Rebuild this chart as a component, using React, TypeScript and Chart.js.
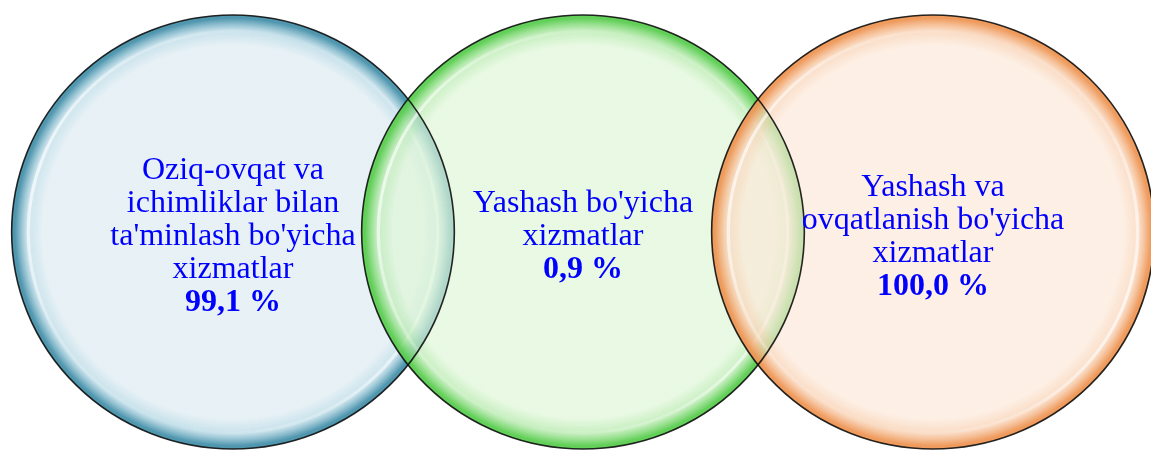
import React, { useEffect, useRef } from "react";
import { Chart, registerables } from "chart.js";

Chart.register(...registerables);

const categories: string[][] = [
  ["Oziq-ovqat va", "ichimliklar bilan", "ta'minlash bo'yicha", "xizmatlar"],
  ["Yashash bo'yicha", "xizmatlar"],
  ["Yashash va", "ovqatlanish bo'yicha", "xizmatlar"],
];
const shareLabels: string[] = ["99,1 %", "0,9 %", "100,0 %"];
const shares: number[] = [99.1, 0.9, 100.0];
const positionsX: number[] = [1, 2, 3];
const positionsY: number[] = [0, 0, 0];
const bubbleRadius: number[] = [217, 217, 217];

const palettes = [
  { inner: "rgba(222,236,242,0.72)", mid: "rgba(180,215,228,0.78)", rim: "rgba(70,145,170,0.95)" },
  { inner: "rgba(222,246,214,0.68)", mid: "rgba(175,232,165,0.75)", rim: "rgba(90,205,80,0.95)" },
  { inner: "rgba(252,232,216,0.68)", mid: "rgba(248,205,172,0.75)", rim: "rgba(238,150,85,0.95)" },
];

const STRETCH_X = 1.02;

function ellipsePath(ctx: CanvasRenderingContext2D, cx: number, cy: number, r: number) {
  ctx.beginPath();
  ctx.ellipse(cx, cy, r * STRETCH_X, r, 0, 0, Math.PI * 2);
}

const vennPlugin = {
  id: "vennBubbles",
  afterDatasetsDraw(chart: any) {
    const ctx: CanvasRenderingContext2D = chart.ctx;
    const meta = chart.getDatasetMeta(0);
    meta.data.forEach((el: any, i: number) => {
      const cx = el.x;
      const cy = el.y;
      const r = el.options.radius;
      const p = palettes[i % palettes.length];
      ctx.save();
      ctx.translate(cx, cy);
      ctx.scale(STRETCH_X, 1);
      const g = ctx.createRadialGradient(0, 0, 0, 0, 0, r);
      g.addColorStop(0, p.inner);
      g.addColorStop(0.86, p.inner);
      g.addColorStop(0.93, p.mid);
      g.addColorStop(0.985, p.rim);
      g.addColorStop(1, p.rim);
      ctx.beginPath();
      ctx.arc(0, 0, r, 0, Math.PI * 2);
      ctx.fillStyle = g;
      ctx.fill();
      ctx.beginPath();
      ctx.arc(0, 0, r, 0, Math.PI * 2);
      ctx.clip();
      const hl = ctx.createLinearGradient(-r, -r * 0.3, r, r * 0.3);
      hl.addColorStop(0, "rgba(255,255,255,0.8)");
      hl.addColorStop(0.2, "rgba(255,255,255,0.25)");
      hl.addColorStop(0.5, "rgba(255,255,255,0.0)");
      hl.addColorStop(0.8, "rgba(255,255,255,0.25)");
      hl.addColorStop(1, "rgba(255,255,255,0.8)");
      ctx.strokeStyle = hl;
      ctx.lineWidth = 3;
      ctx.shadowColor = "rgba(255,255,255,0.8)";
      ctx.shadowBlur = 8;
      ctx.beginPath();
      ctx.arc(0, 0, r * 0.925, 0, Math.PI * 2);
      ctx.stroke();
      ctx.restore();
    });
    // outlines on top of all fills
    meta.data.forEach((el: any) => {
      ctx.save();
      ellipsePath(ctx, el.x, el.y, el.options.radius);
      ctx.lineWidth = 1.6;
      ctx.strokeStyle = "rgba(15,15,15,0.9)";
      ctx.stroke();
      ctx.restore();
    });
    meta.data.forEach((el: any, i: number) => {
      const lines = categories[i];
      const total = lines.length + 1;
      const lh = 33;
      const startY = el.y + 5 - ((total - 1) * lh) / 2;
      ctx.save();
      ctx.fillStyle = "#0000ff";
      ctx.textAlign = "center";
      ctx.textBaseline = "middle";
      lines.forEach((t, k) => {
        ctx.font = "32px 'Liberation Serif', 'Times New Roman', serif";
        ctx.fillText(t, el.x, startY + k * lh);
      });
      ctx.font = "bold 32px 'Liberation Serif', 'Times New Roman', serif";
      ctx.fillText(shareLabels[i], el.x, startY + lines.length * lh);
      ctx.restore();
    });
  },
};

export default function App() {
  const ref = useRef<HTMLCanvasElement | null>(null);
  useEffect(() => {
    document.body.style.margin = "0";
    const canvas = ref.current;
    if (!canvas) return;
    const chart = new Chart(canvas, {
      type: "bubble",
      data: {
        datasets: [
          {
            label: "Xizmatlar",
            data: positionsX.map((x, i) => ({ x, y: positionsY[i], r: bubbleRadius[i], v: shares[i] })) as any,
            backgroundColor: "rgba(0,0,0,0)",
            borderColor: "rgba(0,0,0,0)",
            borderWidth: 0,
            clip: false as any,
          },
        ],
      },
      options: {
        responsive: false,
        animation: false,
        layout: { padding: 0, autoPadding: false } as any,
        plugins: { legend: { display: false }, tooltip: { enabled: false } },
        scales: {
          x: { type: "linear", display: false, min: 0.3343, max: 3.6229 },
          y: { type: "linear", display: false, min: -0.969, max: 1.031 },
        },
      },
      plugins: [vennPlugin],
    });
    return () => chart.destroy();
  }, []);
  return (
    <div style={{ position: "absolute", left: 0, top: 0, width: 1151, height: 450, background: "#fff" }}>
      <canvas ref={ref} width={1151} height={450} style={{ display: "block" }} />
    </div>
  );
}
